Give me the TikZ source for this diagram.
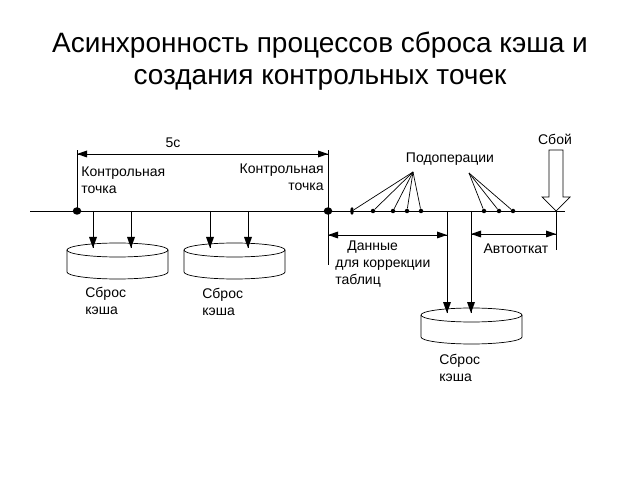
\documentclass[tikz,border=0pt]{standalone}
\usepackage{fontspec}
\setmainfont{Liberation Sans}
\usetikzlibrary{shapes.geometric}
\tikzset{
  title/.style={font=\fontsize{28}{32}\selectfont, align=center, inner sep=0pt},
  lbl/.style={font=\fontsize{14}{17}\selectfont, inner sep=0pt},
  dot/.style={ellipse, fill, inner sep=0pt, minimum width=8.5pt, minimum height=7.5pt},
  subdot/.style={circle, fill, inner sep=0pt, minimum size=4.5pt},
  longdot/.style={ellipse, fill, inner sep=0pt, minimum width=3.5pt, minimum height=7.5pt}
}
\begin{document}
\begin{tikzpicture}[x=1pt,y=1pt,line width=0.7pt]
  \useasboundingbox (0,0) rectangle (640,480);
  \node[title] (head) at (320,419) {Асинхронность процессов сброса кэша и\\создания контрольных точек};

  \coordinate (start) at (30,269);
  \coordinate (stop) at (565,269);
  \draw (start) -- (stop);
  \node[dot] (cp1) at (77,269) {};
  \node[dot] (cp2) at (328,269) {};
  \node[longdot] (s1) at (352,269) {};
  \foreach \n/\x in {2/373,3/393,4/407,5/421,6/484,7/499,8/513}
    \node[subdot] (s\n) at (\x,269) {};

  \foreach \d/\cx/\ty in {disk1/117.5/230,disk2/234.5/230,disk3/471.5/165} {
    \coordinate (\d) at (\cx,\ty);
    \draw (\d) ellipse (50.5 and 7);
    \draw ([xshift=-50.5pt]\d) -- ++(0,-22) arc (180:360:50.5 and 7) -- ++(0,22);
  }

  \coordinate (t1) at (77,330);
  \coordinate (t2) at (328,330);
  \coordinate (d5l) at (77,326);
  \coordinate (d5r) at (328,326);
  \draw (cp1.center) -- (t1);
  \draw (cp2.center) -- (t2);
  \node[lbl] (five) at (173,337) {5с};
  \node[lbl, anchor=north west, align=left] (cpl1) at (81,313) {Контрольная\\точка};
  \node[lbl, anchor=north east, align=right] (cpl2) at (324,316) {Контрольная\\точка};

  \foreach \n/\x/\d in {1/93/disk1,2/131/disk1,3/210/disk2,4/248/disk2,5/447/disk3,6/471/disk3} {
    \coordinate (a\n) at (\x,269);
    \path (a\n |- \d) ++(0,2) coordinate (e\n);
    \draw (a\n) -- (e\n);
    \fill (e\n) -- ++(-4,11) -- ++(8,0) -- cycle;
  }

  \node[lbl, anchor=north west, align=left] (fl1) at (85,193) {Сброс\\кэша};
  \node[lbl, anchor=north west, align=left] (fl2) at (202,192) {Сброс\\кэша};
  \node[lbl, anchor=north west, align=left] (fl3) at (439,126) {Сброс\\кэша};

  \node[lbl] (subops) at (450,321) {Подоперации};
  \coordinate (f1) at (413,308);
  \coordinate (f2) at (469,307);
  \foreach \n in {1,...,5}
    \draw (f1) -- (s\n);
  \foreach \n in {6,7,8}
    \draw (f2) -- (s\n);

  \coordinate (t3) at (328,215);
  \coordinate (dl) at (328,245);
  \coordinate (dr) at (447,245);
  \draw (cp2.center) -- (t3);
  \node[lbl, anchor=north west, align=left] (data) at (335,239) {\hspace{12pt}Данные\\для коррекции\\таблиц};

  \coordinate (fail) at (556,269);
  \coordinate (t4) at (556,230);
  \coordinate (al) at (471,246);
  \coordinate (ar) at (556,246);
  \draw (fail) -- (t4);
  \node[lbl] (undo) at (516,231) {Автооткат};

  \foreach \l/\r in {d5l/d5r,dl/dr,al/ar} {
    \draw (\l) -- (\r);
    \fill (\l) -- ++(10,3.5) -- ++(0,-7) -- cycle;
    \fill (\r) -- ++(-10,3.5) -- ++(0,-7) -- cycle;
  }

  \node[lbl] (crash) at (555,341) {Сбой};
  \draw[fill=white] (549,330) -- (563,330) -- (563,283) -- (570,283) -- (fail)
    -- (542,283) -- (549,283) -- cycle;
\end{tikzpicture}
\end{document}
